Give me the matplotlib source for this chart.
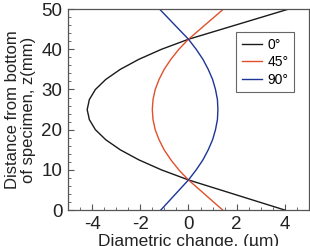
import matplotlib
matplotlib.use("Agg")
import matplotlib.pyplot as plt
from matplotlib.ticker import MultipleLocator

plt.rcParams['font.family'] = ['Liberation Sans', 'DejaVu Sans']
plt.rcParams['axes.unicode_minus'] = False

# heights along the specimen (mm)
z = [0, 7.5, 10, 12.5, 15, 17.5, 20, 22.5, 25, 27.5, 30, 32.5, 35, 37.5, 40, 42.5, 50]

# diametric change (um)
d_0 = [4.0, 0.0, -1.12, -2.06, -2.83, -3.43, -3.86, -4.11, -4.2,
       -4.11, -3.86, -3.43, -2.83, -2.06, -1.12, 0.0, 4.15]
d_45 = [1.42, 0.0, -0.40, -0.73, -1.01, -1.22, -1.38, -1.47, -1.5,
        -1.47, -1.38, -1.22, -1.01, -0.73, -0.40, 0.0, 1.45]
d_90 = [-1.15, 0.0, 0.32, 0.60, 0.82, 1.0, 1.12, 1.20, 1.22,
        1.20, 1.12, 1.0, 0.82, 0.60, 0.32, 0.0, -1.2]

fig = plt.figure(figsize=(3.10, 2.46), dpi=100)
ax = fig.add_axes([0.219, 0.146, 0.778, 0.817])

ax.plot(d_0, z, color='#1a1a1a', lw=1.0, label='0°')
ax.plot(d_45, z, color='#e0502a', lw=1.0, label='45°')
ax.plot(d_90, z, color='#1c3596', lw=1.0, label='90°')

ax.set_xlim(-5, 5)
ax.set_ylim(0, 50)
ax.set_xticks([-4, -2, 0, 2, 4])
ax.set_yticks([0, 10, 20, 30, 40, 50])
ax.xaxis.set_minor_locator(MultipleLocator(0.5))
ax.yaxis.set_minor_locator(MultipleLocator(2))
ax.tick_params(which='both', direction='in', labelsize=13.5, color='#555555',
               labelcolor='#222222')
ax.tick_params(which='major', length=4, pad=4)
ax.tick_params(which='minor', length=2.5)
for s in ax.spines.values():
    s.set_color('#555555')
    s.set_linewidth(0.9)

ax.set_xlabel('Diametric change, (µm)', fontsize=12.5, labelpad=1, color='#222222')
ax.set_ylabel('Distance from bottom\nof specimen, z(mm)', fontsize=12,
              labelpad=4, color='#222222', linespacing=1.1)

leg = ax.legend(loc='upper left', bbox_to_anchor=(0.697, 0.885), fontsize=10,
                fancybox=False, handlelength=1.45, handletextpad=0.4,
                borderpad=0.4, labelspacing=0.25, framealpha=1,
                borderaxespad=0)
leg.get_frame().set_edgecolor('#666666')
leg.get_frame().set_linewidth(0.8)

fig.savefig('out.png', dpi=100)
